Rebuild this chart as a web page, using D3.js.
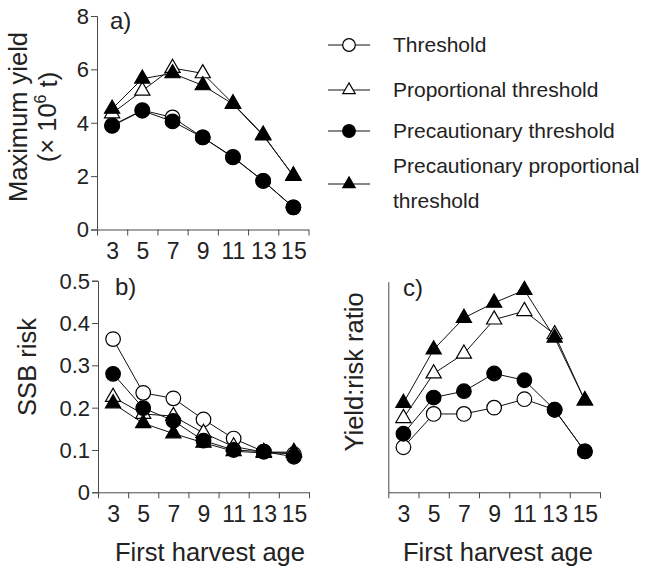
<!DOCTYPE html>
<html>
<head>
<meta charset="utf-8">
<script src="https://cdn.jsdelivr.net/npm/d3@7"></script>
<style>
  html, body { margin: 0; padding: 0; background: #fff; }
  svg { display: block; font-family: "Liberation Sans", Arial, Helvetica, sans-serif; }
  .axis path, .axis line { stroke: #4a4a4a; stroke-width: 1; }
  .axis text { fill: #222; }
</style>
</head>
<body>
<svg id="chart" width="646" height="569"></svg>
<script>
// First harvest age categories
const ages = [3, 5, 7, 9, 11, 13, 15];

// Strategy names (legend order)
const seriesNames = ["Threshold", "Proportional threshold", "Precautionary threshold", "Precautionary proportional threshold"];

// a) Maximum yield (× 10^6 t)
const yieldThreshold     = [3.90, 4.47, 4.20, 3.45, 2.72, 1.82, 0.83];
const yieldProportional  = [4.35, 5.20, 6.05, 5.85, 4.72, 3.55, 2.00];
const yieldPrecaution    = [3.88, 4.45, 4.05, 3.45, 2.70, 1.82, 0.83];
const yieldPrecProp      = [4.52, 5.65, 5.85, 5.40, 4.70, 3.52, 2.02];

// b) SSB risk
const riskThreshold      = [0.362, 0.235, 0.222, 0.172, 0.127, 0.096, 0.090];
const riskProportional   = [0.225, 0.185, 0.180, 0.140, 0.108, 0.095, 0.095];
const riskPrecaution     = [0.280, 0.199, 0.169, 0.122, 0.100, 0.096, 0.084];
const riskPrecProp       = [0.210, 0.163, 0.139, 0.117, 0.097, 0.093, 0.093];

// c) Yield:risk ratio
const ratioThreshold     = [10.7, 18.6, 18.6, 20.1, 22.1, 19.6, 9.7];
const ratioProportional  = [17.6, 28.2, 32.9, 41.0, 43.0, 37.5, 21.8];
const ratioPrecaution    = [13.9, 22.5, 24.0, 28.2, 26.6, 19.6, 9.7];
const ratioPrecProp      = [21.2, 33.9, 41.4, 45.0, 48.0, 36.7, 21.8];

// Tick labels
const yTicksYield = [0, 2, 4, 6, 8];
const yTicksRisk  = [0, 0.1, 0.2, 0.3, 0.4, 0.5];

// Marker style per strategy: open/filled circle, open/filled triangle
const markers = [
  { shape: "circle",   fill: "#fff" },
  { shape: "triangle", fill: "#fff" },
  { shape: "circle",   fill: "#000" },
  { shape: "triangle", fill: "#000" }
];

const svg = d3.select("#chart");

function markerPath(shape, big) {
  if (shape === "circle") {
    return d3.symbol().type(d3.symbolCircle).size(big ? Math.PI * 7.3 * 7.3 : Math.PI * 6.3 * 6.3)();
  }
  return d3.symbol().type(d3.symbolTriangle).size(big ? 100 : 66)();
}

function panel(opts) {
  const { x0, x1, y0, y1, domain, series, yTicks, yFormat, label, labelPos } = opts;
  const g = svg.append("g");

  // category bands: ticks at band edges, labels at band centres
  const xEdge = d3.scaleLinear().domain([2, 16]).range([x0, x1]);
  const y = d3.scaleLinear().domain(domain).range([y0, y1]);

  g.append("g").attr("class", "axis")
    .attr("transform", `translate(0,${y0})`)
    .call(d3.axisBottom(xEdge).tickValues(d3.range(2, 17, 2)).tickFormat("").tickSize(6).tickSizeOuter(0));

  g.append("g").attr("class", "axis")
    .attr("transform", `translate(0,${y0})`)
    .call(d3.axisBottom(xEdge).tickValues(ages).tickSize(0).tickPadding(13.5))
    .call(s => s.select(".domain").remove())
    .call(s => s.selectAll("text").attr("font-size", 23));

  const yAxis = d3.axisLeft(y).tickSizeOuter(0);
  if (yTicks) {
    yAxis.tickValues(yTicks).tickSize(6).tickPadding(2).tickFormat(yFormat);
  } else {
    yAxis.tickValues([]).tickSize(0);
  }
  g.append("g").attr("class", "axis")
    .attr("transform", `translate(${x0},0)`)
    .call(yAxis)
    .call(s => s.selectAll("text").attr("font-size", 22).attr("dy", "0.34em"));

  const line = d3.line().x((d, i) => xEdge(ages[i])).y(d => y(d));
  series.forEach(vals => {
    g.append("path").attr("d", line(vals))
      .attr("fill", "none").attr("stroke", "#111").attr("stroke-width", 1);
  });
  series.forEach((vals, k) => {
    g.selectAll(null).data(vals).join("path")
      .attr("d", markerPath(markers[k].shape, true))
      .attr("transform", (d, i) => `translate(${xEdge(ages[i])},${y(d)})`)
      .attr("fill", markers[k].fill)
      .attr("stroke", "#000").attr("stroke-width", 1.2);
  });

  g.append("text").attr("x", labelPos[0]).attr("y", labelPos[1])
    .attr("font-size", 24).attr("fill", "#222").text(label);
  return g;
}

panel({ x0: 97, x1: 308.5, y0: 229.5, y1: 16, domain: [0, 8],
  series: [yieldThreshold, yieldProportional, yieldPrecaution, yieldPrecProp],
  yTicks: yTicksYield, yFormat: d3.format("d"), label: "a)", labelPos: [110, 29] });

panel({ x0: 98, x1: 309, y0: 492.3, y1: 280.7, domain: [0, 0.5],
  series: [riskThreshold, riskProportional, riskPrecaution, riskPrecProp],
  yTicks: yTicksRisk, yFormat: d => d === 0 ? "0" : d3.format(".1f")(d), label: "b)", labelPos: [115, 295] });

panel({ x0: 388.3, x1: 600, y0: 492.3, y1: 281.7, domain: [0, 50],
  series: [ratioThreshold, ratioProportional, ratioPrecaution, ratioPrecProp],
  yTicks: null, label: "c)", labelPos: [403, 296] });

// Axis titles
const titleFont = 25.5;
svg.append("text").attr("transform", "translate(27,117) rotate(-90)")
  .attr("text-anchor", "middle").attr("font-size", titleFont).attr("fill", "#222")
  .text("Maximum yield");
const unit = svg.append("text").attr("transform", "translate(56,117) rotate(-90)")
  .attr("text-anchor", "middle").attr("font-size", titleFont).attr("fill", "#222");
unit.append("tspan").text("(× 10");
unit.append("tspan").attr("font-size", 16).attr("dy", "-0.6em").text("6");
unit.append("tspan").attr("dy", "0.4em").text(" t)");

svg.append("text").attr("transform", "translate(36,367) rotate(-90)")
  .attr("text-anchor", "middle").attr("font-size", titleFont).attr("fill", "#222")
  .text("SSB risk");
svg.append("text").attr("transform", "translate(363,372) rotate(-90)")
  .attr("text-anchor", "middle").attr("font-size", titleFont).attr("fill", "#222")
  .text("Yield:risk ratio");

svg.append("text").attr("x", 210).attr("y", 561).attr("text-anchor", "middle")
  .attr("font-size", titleFont).attr("fill", "#222").text("First harvest age");
svg.append("text").attr("x", 498).attr("y", 561).attr("text-anchor", "middle")
  .attr("font-size", titleFont).attr("fill", "#222").text("First harvest age");

// Legend
const legendRows = [45, 90, 131, 184];
const legend = svg.append("g");
seriesNames.forEach((name, k) => {
  const ly = legendRows[k];
  legend.append("line").attr("x1", 328).attr("x2", 370).attr("y1", ly).attr("y2", ly)
    .attr("stroke", "#111").attr("stroke-width", 1);
  legend.append("path").attr("d", markerPath(markers[k].shape, false))
    .attr("transform", `translate(349,${ly})`)
    .attr("fill", markers[k].fill).attr("stroke", "#000").attr("stroke-width", 1.2);
  const t = legend.append("text").attr("x", 393).attr("font-size", 21).attr("fill", "#222");
  if (k === 3) {
    t.append("tspan").attr("x", 393).attr("y", ly - 11).text("Precautionary proportional");
    t.append("tspan").attr("x", 393).attr("y", ly + 24).text("threshold");
  } else {
    t.attr("y", ly + 7).text(name);
  }
});
</script>
</body>
</html>
